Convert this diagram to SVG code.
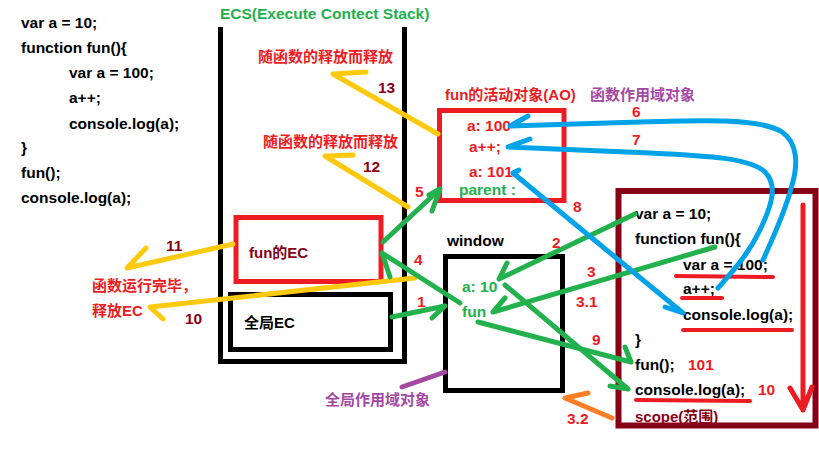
<svg xmlns="http://www.w3.org/2000/svg" width="819" height="460" viewBox="0 0 819 460">
<style>
text{font-family:"Liberation Sans","Noto Sans CJK SC",sans-serif;font-weight:bold;font-size:15.5px}
.cj{font-size:15px}
.k{fill:#000}
.r{fill:#ed1c24}
.dr{fill:#880015}
.g{fill:#22b14c}
.p{fill:#a349a4}
.box{fill:none;stroke-width:5}
.c{fill:none;stroke-width:5;stroke-linecap:round;stroke-linejoin:round}
.y{stroke:#ffc90e}
.gs{stroke:#22b14c}
.b{stroke:#00a2e8}
.o{stroke:#ff7f27}
.rs{stroke:#ed1c24}
.ps{stroke:#a349a4}
.u{fill:none;stroke:#ed1c24;stroke-width:4;stroke-linecap:round}
</style>
<rect width="819" height="460" fill="#fff"/>

<g id="code">
<text class="k" x="21" y="28">var a = 10;</text>
<text class="k" x="21" y="53">function fun(){</text>
<text class="k" x="69" y="78">var a = 100;</text>
<text class="k" x="69" y="103">a++;</text>
<text class="k" x="69" y="129">console.log(a);</text>
<text class="k" x="21" y="153">}</text>
<text class="k" x="21" y="178">fun();</text>
<text class="k" x="21" y="203">console.log(a);</text>
</g>

<g id="ecs">
<path d="M220.5,27 V361.5 H404.5 V27" class="box" stroke="#000"/>
<text class="g" x="220" y="19">ECS(Execute Contect Stack)</text>
</g>

<g id="fun-ec">
<rect x="236" y="217.5" width="145" height="64" class="box" stroke="#ed1c24"/>
<text class="dr cj" x="249" y="258">fun的EC</text>
</g>

<g id="global-ec">
<rect x="230.5" y="294.5" width="160" height="55" class="box" stroke="#000"/>
<text class="k cj" x="244" y="328">全局EC</text>
</g>

<g id="ao">
<rect x="439.5" y="110.5" width="124.5" height="90" class="box" stroke="#ed1c24"/>
<text class="r cj" x="445" y="100">fun的活动对象(AO)</text>
<text class="p cj" x="590" y="100">函数作用域对象</text>
<text class="r" x="467" y="131">a: 100</text>
<text class="r" x="469" y="152">a++;</text>
<text class="r" x="469" y="177">a: 101</text>
<text class="g" x="459" y="195">parent :</text>
</g>

<g id="window">
<rect x="445.5" y="256.5" width="117" height="134" class="box" stroke="#000"/>
<text class="k" x="447" y="246">window</text>
<text class="g" x="462" y="292">a: 10</text>
<text class="g" x="462" y="317">fun</text>
<text class="p cj" x="325" y="405">全局作用域对象</text>
</g>

<g id="scope">
<rect x="618.5" y="191" width="197" height="234.5" fill="none" stroke="#880015" stroke-width="6"/>
<text class="k" x="635" y="219">var a = 10;</text>
<text class="k" x="635" y="244">function fun(){</text>
<text class="k" x="683" y="270">var a = 100;</text>
<text class="k" x="683" y="294">a++;</text>
<text class="k" x="683" y="320">console.log(a);</text>
<text class="k" x="635" y="345">}</text>
<text class="k" x="635" y="370">fun();</text>
<text class="r" x="688" y="370">101</text>
<text class="k" x="635" y="395">console.log(a);</text>
<text class="r" x="758" y="395">10</text>
<text class="dr cj" x="635" y="422">scope(范围)</text>
<path class="u" d="M676,276 L773,277 M682,298 L722,298 M683,330 L792,330 M636,400 L750,401"/>
<path class="c rs" d="M803,205 V410 M790,388 L803,410 L812,387"/>
</g>

<g id="connectors">
<path class="c y" d="M438,134 L333,74 L366,72"/>
<path class="c y" d="M408,207 L325,156 L353,155"/>
<path class="c y" d="M233,244 L127,268 L146,248"/>
<path class="c y" d="M415,278 L150,307 L163,319"/>
<path class="c gs" d="M392,317 L445,306 L432,318"/>
<path class="c gs" d="M460,303 L382,253 L390,277"/>
<path class="c gs" d="M383,242 L440,189 M429,195 L440,189 L432,211"/>
<path class="c gs" d="M635,214 L499,279 L507,263"/>
<path class="c gs" d="M715,247 L493,312 L505,298"/>
<path class="c gs" d="M478,322 L631,362 M625,347 L631,362"/>
<path class="c gs" d="M505,285 L628,389 M610,386 L628,389"/>
<path class="c b" d="M528,116 L510,126 L640,122 C700,120 760,118 782,132 C798,143 798,165 792,185 C786,210 772,240 763,260"/>
<path class="c b" d="M530,139 L508,147 L650,153 C710,156 750,158 765,172 C778,185 772,205 760,230 C748,255 732,272 718,288"/>
<path class="c b" d="M519,170 L513,173 L683,313 L665,307"/>
<path class="c o" d="M612,418 L565,398 L588,393"/>
<path class="c ps" d="M402,387 L445,372"/>
</g>

<g id="labels">
<text class="r cj" x="258" y="62">随函数的释放而释放</text>
<text class="r cj" x="263" y="147">随函数的释放而释放</text>
<text class="r cj" x="92" y="291">函数运行完毕，</text>
<text class="r cj" x="92" y="316">释放EC</text>
<text class="dr" x="378" y="93">13</text>
<text class="dr" x="363" y="172">12</text>
<text class="dr" x="166" y="251">11</text>
<text class="dr" x="185" y="324">10</text>
<text class="r" x="417" y="307">1</text>
<text class="r" x="414" y="265">4</text>
<text class="r" x="415" y="197">5</text>
<text class="r" x="552" y="248">2</text>
<text class="r" x="587" y="277">3</text>
<text class="r" x="576" y="307">3.1</text>
<text class="r" x="592" y="345">9</text>
<text class="r" x="567" y="424">3.2</text>
<text class="r" x="632" y="117">6</text>
<text class="r" x="632" y="145">7</text>
<text class="r" x="573" y="212">8</text>
</g>
</svg>
